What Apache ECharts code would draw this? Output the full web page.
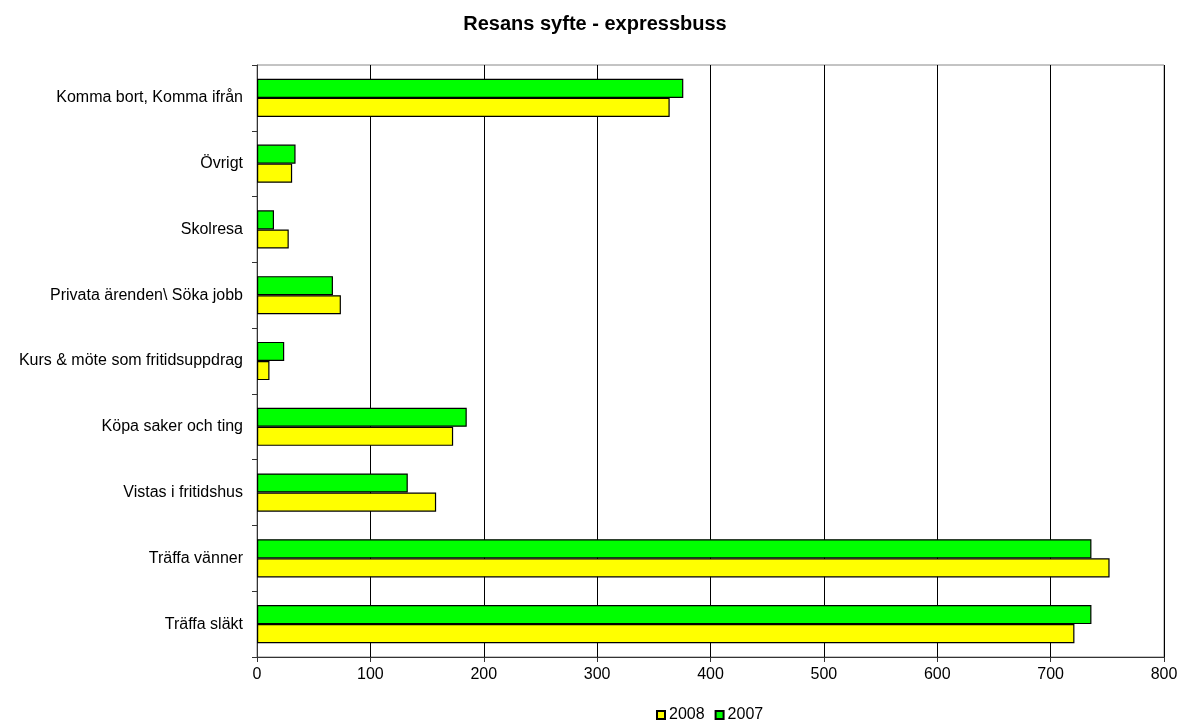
<!DOCTYPE html>
<html><head><meta charset="utf-8">
<script src="https://cdn.jsdelivr.net/npm/echarts@6/dist/echarts.min.js"></script>
<style>html,body{margin:0;padding:0;background:#fff}#c{width:1178px;height:723px}</style>
</head><body><div id="c"></div>
<script>
const categories = ["Träffa släkt","Träffa vänner","Vistas i fritidshus","Köpa saker och ting","Kurs & möte som fritidsuppdrag","Privata ärenden\\ Söka jobb","Skolresa","Övrigt","Komma bort, Komma ifrån"];
const values2008 = [721, 752, 158, 173, 11, 74, 28, 31, 364];
const values2007 = [736, 736, 133, 185, 24, 67, 15, 34, 376];
const xTicks = {min: 0, max: 800, interval: 100};

const font = "Liberation Sans, Arial, sans-serif";
const chart = echarts.init(document.getElementById('c'));
chart.setOption({
  animation: false,
  title: {text: "Resans syfte - expressbuss", left: 590, top: 9, textAlign: 'center',
    textStyle: {fontFamily: font, fontSize: 20, fontWeight: 'bold', color: '#000'}},
  legend: {top: 707, left: 656, padding: 0, itemWidth: 8, itemHeight: 8, itemGap: 10,
    textStyle: {fontFamily: font, fontSize: 16, color: '#000', padding: [0,0,0,-1]},
    data: [{name:'2008', icon:'rect'},{name:'2007', icon:'rect'}]},
  grid: {left: 257, right: 14, top: 65, bottom: 66, show: true, borderColor: '#888', borderWidth: 1,
    containLabel: false, outerBoundsMode: 'none'},
  xAxis: {type: 'value', min: xTicks.min, max: xTicks.max, interval: xTicks.interval,
    axisLine: {show: true, lineStyle: {color: '#333'}},
    axisTick: {show: true, length: 5, lineStyle: {color: '#333'}},
    axisLabel: {fontFamily: font, fontSize: 16, color: '#000', margin: 10},
    splitLine: {show: true, lineStyle: {color: '#000', width: 1}}},
  yAxis: {type: 'category', data: categories,
    axisLine: {show: true, lineStyle: {color: '#333'}},
    axisTick: {show: true, length: 5, lineStyle: {color: '#333'}},
    axisLabel: {fontFamily: font, fontSize: 16, color: '#000', margin: 14}},
  series: [
    {name: '2007', type: 'bar', data: values2007, barGap: '0%', barCategoryGap: '42%',
      itemStyle: {color: '#00ff00', borderColor: '#000', borderWidth: 1.2}},
    {name: '2008', type: 'bar', data: values2008, barGap: '0%', barCategoryGap: '42%',
      itemStyle: {color: '#ffff00', borderColor: '#000', borderWidth: 1.2}}
  ]
});
</script></body></html>
